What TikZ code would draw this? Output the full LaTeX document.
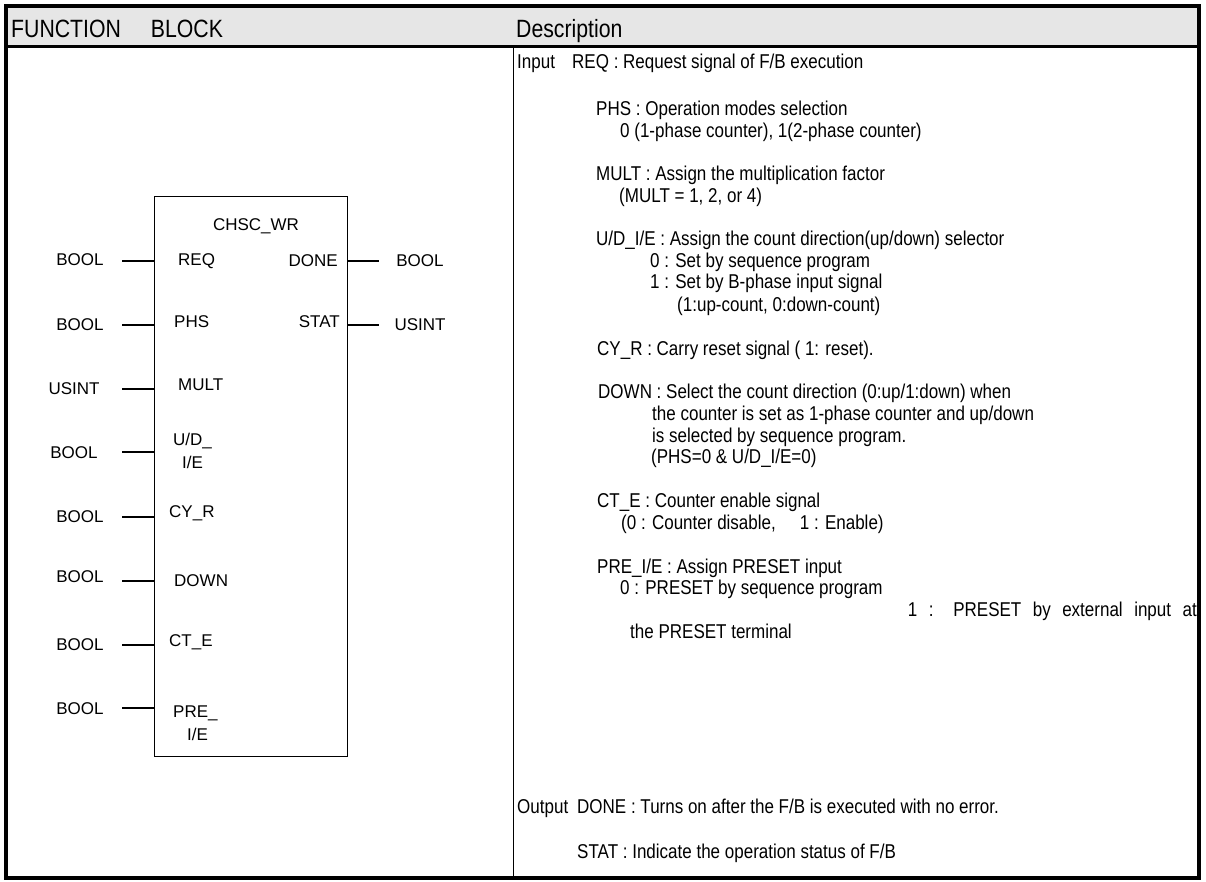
\documentclass[tikz,border=0pt]{standalone}
\usepackage{fontspec}
\setmainfont{Liberation Sans}
\newfontfamily\narrowfont[FakeStretch=0.85]{Liberation Sans}
\definecolor{headgray}{RGB}{230,230,230}
\begin{document}
\begin{tikzpicture}[x=1pt,y=-1pt,
  head/.style={anchor=base west, inner sep=0pt, font=\narrowfont\fontsize{25}{28}\selectfont},
  desc/.style={anchor=base west, inner sep=0pt, font=\narrowfont\fontsize{20}{23}\selectfont},
  typelbl/.style={inner sep=0pt, font=\fontsize{17}{19}\selectfont},
  pinlbl/.style={inner sep=0pt, font=\fontsize{17}{19}\selectfont},
  wire/.style={line width=1.3pt},
  frame/.style={line width=3.5pt},
]
\useasboundingbox (0,0) rectangle (1206,882);

% table: header band, rules and outer frame
\fill[headgray] (6,6) rectangle (1199,47);
\draw[line width=1.5pt] (513.5,47) -- (513.5,878);
\draw[line width=3pt] (6,47) -- (1199,47);
\draw[frame] (6,6) rectangle (1199,878);

\node[head] (fbhead) at (11,38) {FUNCTION\hspace{30pt}BLOCK};
\node[head] (deschead) at (516,38) {Description};

% function block body
\node[draw, line width=1.3pt, minimum width=193pt, minimum height=560pt, inner sep=0pt,
      anchor=north west] (fb) at (154,196) {};
\node[pinlbl] (title) at (256,226) {CHSC\_WR};

% input pins
\node[pinlbl, anchor=west] (pREQ)  at (178,261) {REQ};
\node[pinlbl, anchor=west] (pPHS)  at (174,322) {PHS};
\node[pinlbl, anchor=west] (pMULT) at (178,385) {MULT};
\node[pinlbl, anchor=west] (pUDa)  at (173,441) {U/D\_};
\node[pinlbl, anchor=west] (pUDb)  at (182,462) {I/E};
\node[pinlbl, anchor=west] (pCYR)  at (169,513) {CY\_R};
\node[pinlbl, anchor=west] (pDOWN) at (174,581) {DOWN};
\node[pinlbl, anchor=west] (pCTE)  at (169,642) {CT\_E};
\node[pinlbl, anchor=west] (pPREa) at (173,713) {PRE\_};
\node[pinlbl, anchor=west] (pPREb) at (187,734) {I/E};

% output pins
\node[pinlbl, anchor=east] (pDONE) at (338,261) {DONE};
\node[pinlbl, anchor=east] (pSTAT) at (340,322) {STAT};

% data types of the inputs
\node[typelbl] (tREQ)  at (80,260) {BOOL};
\node[typelbl] (tPHS)  at (80,325) {BOOL};
\node[typelbl] (tMULT) at (74,389) {USINT};
\node[typelbl] (tUD)   at (74,453) {BOOL};
\node[typelbl] (tCYR)  at (80,517) {BOOL};
\node[typelbl] (tDOWN) at (80,577) {BOOL};
\node[typelbl] (tCTE)  at (80,645) {BOOL};
\node[typelbl] (tPRE)  at (80,709) {BOOL};

% data types of the outputs
\node[typelbl] (tDONE) at (420,261) {BOOL};
\node[typelbl] (tSTAT) at (420,325) {USINT};

% wire stubs
\coordinate (wREQ)  at (122,261);
\coordinate (wPHS)  at (122,325);
\coordinate (wMULT) at (122,389);
\coordinate (wUD)   at (122,452);
\coordinate (wCYR)  at (122,517);
\coordinate (wDOWN) at (122,581);
\coordinate (wCTE)  at (122,645);
\coordinate (wPRE)  at (122,708);
\coordinate (wDONE) at (379,261);
\coordinate (wSTAT) at (379,325);
\foreach \w in {wREQ,wPHS,wMULT,wUD,wCYR,wDOWN,wCTE,wPRE}
  \draw[wire] (\w) -- (\w -| fb.west);
\foreach \w in {wDONE,wSTAT}
  \draw[wire] (fb.east |- \w) -- (\w);

% description column
\node[desc] (dIn)    at (517,69)  {Input};
\node[desc] (dREQ)   at (572,69)  {REQ : Request signal of F/B execution};
\node[desc] (dPHS)   at (596,116) {PHS : Operation modes selection};
\node[desc] (dPHS2)  at (620,138) {0 (1-phase counter), 1(2-phase counter)};
\node[desc] (dMULT)  at (596,181) {MULT : Assign the multiplication factor};
\node[desc] (dMULT2) at (619,203) {(MULT = 1, 2, or 4)};
\node[desc] (dUD)    at (596,246) {U/D\_I/E : Assign the count direction(up/down) selector};
\node[desc] (dUD2)   at (650,268) {0 : Set by sequence program};
\node[desc] (dUD3)   at (650,289) {1 : Set by B-phase input signal};
\node[desc] (dUD4)   at (677,311) {(1:up-count, 0:down-count)};
\node[desc] (dCYR)   at (597,355) {CY\_R : Carry reset signal ( 1: reset).};
\node[desc] (dDOWN)  at (598,398) {DOWN : Select the count direction (0:up/1:down) when};
\node[desc] (dDOWN2) at (652,420) {the counter is set as 1-phase counter and up/down};
\node[desc] (dDOWN3) at (652,442) {is selected by sequence program.};
\node[desc] (dDOWN4) at (651,463) {(PHS=0 \& U/D\_I/E=0)};
\node[desc] (dCTE)   at (597,507) {CT\_E : Counter enable signal};
\node[desc] (dCTE2)  at (621,529) {(0 : Counter disable,\hspace{24pt}1 : Enable)};
\node[desc] (dPRE)   at (597,573) {PRE\_I/E : Assign PRESET input};
\node[desc] (dPRE2)  at (620,594) {0 : PRESET by sequence program};
\node[desc, anchor=base east] (dPRE3) at (1197,616)
      {\makebox[289pt][s]{1 : PRESET by external input at}};
\node[desc] (dPRE4)  at (630,638) {the PRESET terminal};
\node[desc] (dOut)   at (517,813) {Output};
\node[desc] (dDONE)  at (577,813) {DONE : Turns on after the F/B is executed with no error.};
\node[desc] (dSTAT)  at (577,858) {STAT : Indicate the operation status of F/B};
\end{tikzpicture}
\end{document}
